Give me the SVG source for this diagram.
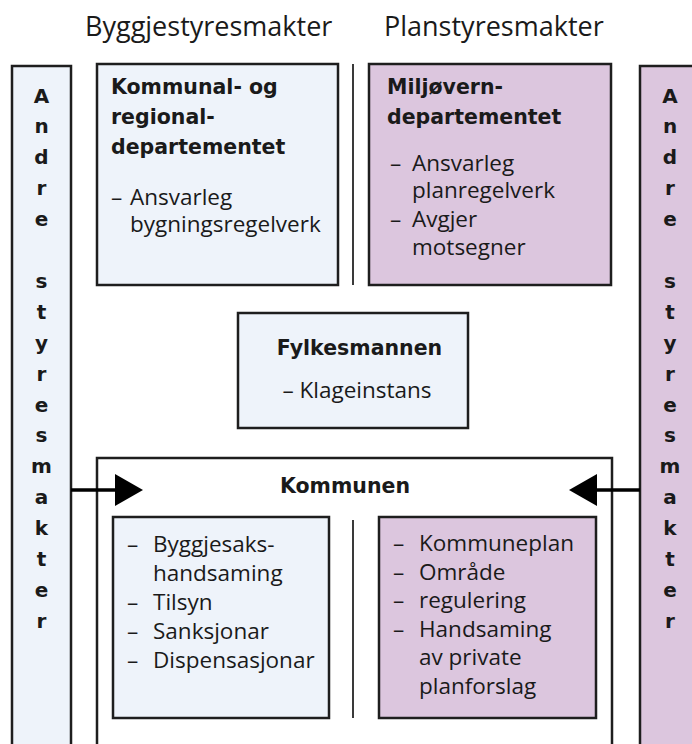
<svg xmlns="http://www.w3.org/2000/svg" width="692" height="744" viewBox="0 0 692 744">
<style>
.box{stroke:#1e1e1e;stroke-width:2.5}
.blue{fill:#eef3fa}
.mauve{fill:#dcc6de}
.white{fill:#ffffff}
.div{stroke:#3a3a3a;stroke-width:2}
.hd{font-family:"Open Sans","Liberation Sans",sans-serif;font-size:27px;fill:#1a1a1a}
.b{font-family:"DejaVu Sans","Liberation Sans",sans-serif;font-weight:bold;font-size:20.5px;fill:#1a1a1a}
.r{font-family:"Open Sans","Liberation Sans",sans-serif;font-size:22.5px;fill:#1a1a1a}
.v{font-family:"DejaVu Sans","Liberation Sans",sans-serif;font-weight:bold;font-size:20px;fill:#1a1a1a;text-anchor:middle}
.arrow{stroke:#000;stroke-width:3.5;fill:none}
</style>
<g id="headers">
<text class="hd" x="85" y="36">Byggjestyresmakter</text>
<text class="hd" x="384" y="36">Planstyresmakter</text>
</g>
<g id="andre-venstre">
<rect class="box blue" x="12" y="66" width="59" height="700"/>
<text class="v" x="41.5" y="102.5">A</text>
<text class="v" x="41.5" y="133.4">n</text>
<text class="v" x="41.5" y="164.3">d</text>
<text class="v" x="41.5" y="195.2">r</text>
<text class="v" x="41.5" y="226.1">e</text>
<text class="v" x="41.5" y="287.9">s</text>
<text class="v" x="41.5" y="318.8">t</text>
<text class="v" x="41.5" y="349.7">y</text>
<text class="v" x="41.5" y="380.6">r</text>
<text class="v" x="41.5" y="411.5">e</text>
<text class="v" x="41.5" y="442.4">s</text>
<text class="v" x="41.5" y="473.3">m</text>
<text class="v" x="41.5" y="504.2">a</text>
<text class="v" x="41.5" y="535.1">k</text>
<text class="v" x="41.5" y="566">t</text>
<text class="v" x="41.5" y="596.9">e</text>
<text class="v" x="41.5" y="627.8">r</text>
</g>
<g id="andre-hoegre">
<rect class="box mauve" x="640" y="66" width="60" height="700"/>
<text class="v" x="670" y="102.5">A</text>
<text class="v" x="670" y="133.4">n</text>
<text class="v" x="670" y="164.3">d</text>
<text class="v" x="670" y="195.2">r</text>
<text class="v" x="670" y="226.1">e</text>
<text class="v" x="670" y="287.9">s</text>
<text class="v" x="670" y="318.8">t</text>
<text class="v" x="670" y="349.7">y</text>
<text class="v" x="670" y="380.6">r</text>
<text class="v" x="670" y="411.5">e</text>
<text class="v" x="670" y="442.4">s</text>
<text class="v" x="670" y="473.3">m</text>
<text class="v" x="670" y="504.2">a</text>
<text class="v" x="670" y="535.1">k</text>
<text class="v" x="670" y="566">t</text>
<text class="v" x="670" y="596.9">e</text>
<text class="v" x="670" y="627.8">r</text>
</g>
<g id="krd">
<rect class="box blue" x="97" y="64" width="241" height="221"/>
<text class="b" x="111" y="94">Kommunal- og</text>
<text class="b" x="111" y="124">regional-</text>
<text class="b" x="111" y="154">departementet</text>
<text class="r" y="205"><tspan x="111">–</tspan><tspan x="130">Ansvarleg</tspan></text>
<text class="r" x="130" y="232">bygningsregelverk</text>
</g>
<g id="md">
<rect class="box mauve" x="369" y="64" width="242" height="221"/>
<text class="b" x="387" y="94">Miljøvern-</text>
<text class="b" x="387" y="124">departementet</text>
<text class="r" y="171"><tspan x="390">–</tspan><tspan x="412">Ansvarleg</tspan></text>
<text class="r" x="412" y="198">planregelverk</text>
<text class="r" y="227"><tspan x="390">–</tspan><tspan x="412">Avgjer</tspan></text>
<text class="r" x="412" y="255">motsegner</text>
</g>
<g id="fylkesmannen">
<rect class="box blue" x="238" y="313" width="230" height="115"/>
<text class="b" x="359.5" y="355" text-anchor="middle">Fylkesmannen</text>
<text class="r" x="357" y="398" text-anchor="middle">– Klageinstans</text>
</g>
<g id="kommunen">
<rect class="box white" x="97" y="458" width="515" height="320"/>
<text class="b" x="345" y="493" text-anchor="middle">Kommunen</text>
</g>
<g id="kommune-bygg">
<rect class="box blue" x="113" y="517" width="216" height="201"/>
<text class="r" y="552"><tspan x="127">–</tspan><tspan x="153">Byggjesaks-</tspan></text>
<text class="r" x="153" y="581">handsaming</text>
<text class="r" y="610"><tspan x="127">–</tspan><tspan x="153">Tilsyn</tspan></text>
<text class="r" y="639"><tspan x="127">–</tspan><tspan x="153">Sanksjonar</tspan></text>
<text class="r" y="668"><tspan x="127">–</tspan><tspan x="153">Dispensasjonar</tspan></text>
</g>
<g id="kommune-plan">
<rect class="box mauve" x="379" y="517" width="217" height="201"/>
<text class="r" y="551"><tspan x="393">–</tspan><tspan x="419">Kommuneplan</tspan></text>
<text class="r" y="579.6"><tspan x="393">–</tspan><tspan x="419">Område</tspan></text>
<text class="r" y="608.2"><tspan x="393">–</tspan><tspan x="419">regulering</tspan></text>
<text class="r" y="636.8"><tspan x="393">–</tspan><tspan x="419">Handsaming</tspan></text>
<text class="r" x="419" y="665.4">av private</text>
<text class="r" x="419" y="694">planforslag</text>
</g>
<g id="connectors">
<line class="div" x1="353" y1="64" x2="353" y2="285"/>
<line class="div" x1="353" y1="520" x2="353" y2="718"/>
<line class="arrow" x1="71" y1="490" x2="118" y2="490"/>
<polygon points="115,474 143,490 115,506" fill="#000"/>
<line class="arrow" x1="594" y1="490" x2="640" y2="490"/>
<polygon points="597,474 569,490 597,506" fill="#000"/>
</g>
</svg>
